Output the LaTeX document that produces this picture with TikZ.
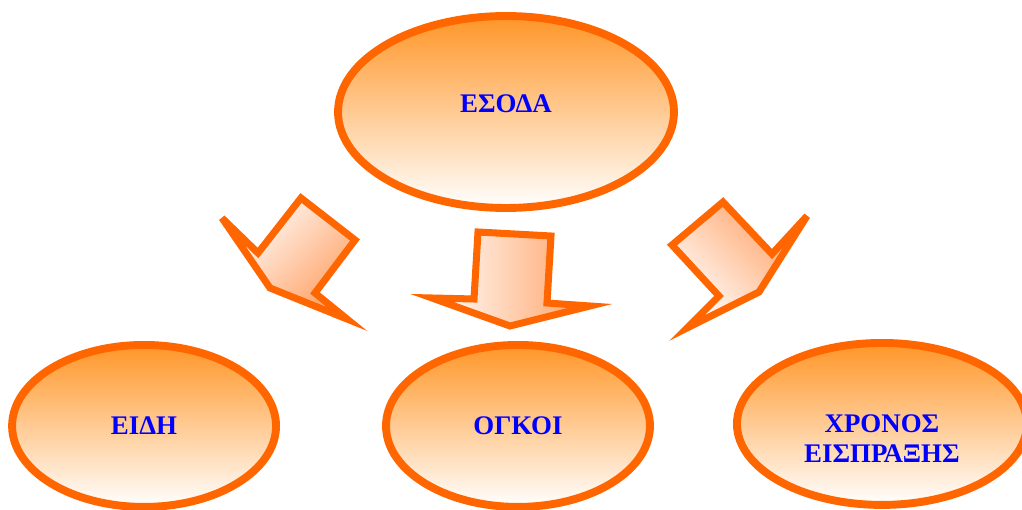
\documentclass[tikz,border=0pt]{standalone}
\usepackage{fontspec}
\setmainfont{Liberation Serif}
\usepackage{tikz}
\usetikzlibrary{shapes.geometric,positioning}
\definecolor{rim}{RGB}{255,102,0}
\definecolor{warm}{RGB}{255,150,40}
\definecolor{soft}{RGB}{255,160,100}
\tikzset{
  bubble/.style = {draw=rim, line width=4.5pt, ellipse, top color=warm, bottom color=white, outer sep=0pt, inner sep=0pt, minimum width=5.28cm, minimum height=3.24cm, align=center, text=blue, font=\bfseries\fontsize{15.3}{17}\selectfont},
  tag/.style = {align=center, text=blue, font=\bfseries\fontsize{15.3}{17}\selectfont},
  blockarrow/.style = {draw=rim, line width=4pt, line join=miter}
}

\begin{document}
\begin{tikzpicture}[x=0.02cm, y=-0.02cm]
            \useasboundingbox (0,0) rectangle (1022,510);
            \node[bubble, minimum width=6.72cm, minimum height=3.84cm,
              label={[tag, yshift=0.16cm]center:ΕΣΟΔΑ}] (esoda) at (506,112) {};
            \node[bubble, below=2.74cm of esoda, xshift=0.24cm] (ogkoi) {ΟΓΚΟΙ};
            \node[bubble, left=2.2cm of ogkoi] (eidh) {ΕΙΔΗ};
            \node[bubble, right=1.74cm of ogkoi, minimum width=5.8cm, yshift=0.04cm,
              label={[tag, yshift=-0.3cm]center:ΧΡΟΝΟΣ\\ΕΙΣΠΡΑΞΗΣ}] (xronos) {};
            \draw[blockarrow, shading=axis, top color=white, bottom color=soft, shading angle=45]
              (301,198) -- (355,240) -- (315,293) -- (347,319) -- (270,288) -- (222,218) -- (258,253) -- cycle;
            \draw[blockarrow, left color=white, right color=soft]
              (478,232) -- (551,236) -- (547,303) -- (590,306) -- (510,326) -- (432,298) -- (474,299) -- cycle;
            \draw[blockarrow, shading=axis, top color=soft, bottom color=white, shading angle=-45]
              (723,202) -- (772,254) -- (807,216) -- (759,292) -- (687,328) -- (719,296) -- (672,245) -- cycle;
        \end{tikzpicture}
\end{document}
